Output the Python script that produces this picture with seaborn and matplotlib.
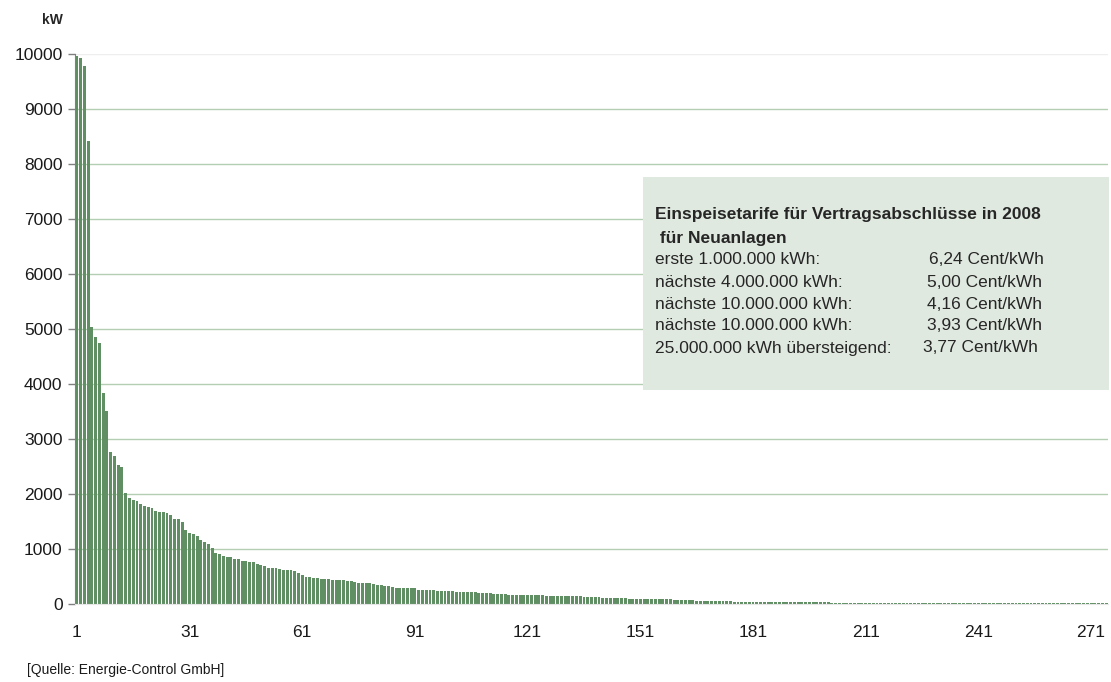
import numpy as np
import matplotlib
matplotlib.use("Agg")
import matplotlib.pyplot as plt
import seaborn as sns
from matplotlib.patches import Rectangle

# Leistung je Anlage (kW), absteigend sortiert
kw_head = [9960, 9920, 9780, 8420, 5040, 4860, 4750, 3830, 3510, 2770,
           2700, 2520, 2500, 2010, 1930, 1900, 1880, 1820, 1790, 1770,
           1750, 1690, 1680, 1680, 1660, 1620, 1550, 1540, 1500, 1350,
           1300, 1270, 1230, 1170, 1135, 1100]
kw_mid = [1025, 935, 915, 880, 862, 860, 825, 822, 790, 787,
          770, 768, 735, 715, 697, 662, 660, 658, 642, 625,
          623, 621, 606, 570, 533, 498, 496, 480, 478, 462,
          460, 458, 443, 442, 441, 440, 425, 423, 406, 390,
          388, 387, 386, 370, 352, 350, 334, 332, 315, 298,
          297, 296, 295, 294, 293]
kw_tail = [262, 261, 260, 259, 258, 243, 242, 241, 240, 239,
           225, 224, 223, 222, 221, 220, 207, 206, 205, 204,
           189, 188, 187, 186, 171, 170, 170, 169, 169, 168,
           168, 167, 167, 166, 153, 152, 152, 151, 151, 150,
           150, 149, 149, 148, 134, 133, 132, 131, 130, 116,
           115, 115, 114, 114, 113, 112, 98, 97, 97, 96,
           96, 95, 95, 94, 94, 93, 93, 92, 80, 79,
           79, 78, 78, 77, 62, 61, 61, 60, 60, 59,
           59, 58, 58, 57, 45, 44, 44, 43, 43, 43,
           42, 42, 42, 41, 41, 41, 40, 40, 39, 39,
           38, 31, 30, 30, 29, 29, 29, 28, 28, 28,
           27, 27, 27, 26, 26, 26, 25, 25, 25, 24,
           24, 24, 23, 23, 23, 23, 22, 22, 22, 22,
           21, 21, 20, 20, 20, 20, 20, 20, 20, 20,
           19, 19, 19, 19, 19, 19, 19, 19, 19, 19,
           19, 19, 18, 18, 18, 18, 18, 18, 18, 18,
           18, 18, 18, 18, 18, 18, 18, 18, 18, 18,
           18, 18, 18, 18, 18, 18, 18, 18, 18, 18,
           18, 18, 18, 18]
kw = kw_head + kw_mid + kw_tail
anlage = list(range(1, len(kw) + 1))

x_ticks = [1, 31, 61, 91, 121, 151, 181, 211, 241, 271]
y_ticks = [0, 1000, 2000, 3000, 4000, 5000, 6000, 7000, 8000, 9000, 10000]

box_title = ["Einspeisetarife für Vertragsabschlüsse in 2008", " für Neuanlagen"]
tarif_labels = ["erste 1.000.000 kWh:", "nächste 4.000.000 kWh:",
                "nächste 10.000.000 kWh:", "nächste 10.000.000 kWh:",
                "25.000.000 kWh übersteigend:"]
tarif_values = ["6,24 Cent/kWh", "5,00 Cent/kWh", "4,16 Cent/kWh",
                "3,93 Cent/kWh", "3,77 Cent/kWh"]

sns.set_style("white")
plt.rcParams["font.family"] = ["Liberation Sans", "DejaVu Sans"]

W, H = 1111, 682
fig = plt.figure(figsize=(W / 100, H / 100), dpi=100)
# 55 px je 1000 kW, damit die Gitterlinien sauber auf Pixel fallen
ax = fig.add_axes([75 / W, 78 / H, (1108 - 75) / W, 550 / H])

sns.barplot(x=anlage, y=kw, color="#5f8f62", width=0.78, saturation=1,
            linewidth=0, ax=ax)

ax.set_xlim(-0.5, len(kw) - 0.5)
ax.set_ylim(0, 10000)
ax.set_yticks(y_ticks)
ax.set_yticklabels([str(v) for v in y_ticks], fontsize=12.5, color="#1a1a1a")
ax.set_xticks([t - 1 for t in x_ticks])
ax.set_xticklabels([str(t) for t in x_ticks], fontsize=12.5, color="#1a1a1a")
ax.set_xlabel("")
ax.set_ylabel("")

ax.grid(axis="y", color="#b3ceb3", linewidth=1.0)
ax.get_ygridlines()[-1].set_color("#eeeeee")
ax.get_ygridlines()[0].set_visible(False)
ax.set_axisbelow(True)
ax.tick_params(axis="y", length=5, width=1, color="#808080", pad=4, left=True)
ax.tick_params(axis="x", length=0, pad=15)
for s in ["top", "right"]:
    ax.spines[s].set_visible(False)
ax.spines["left"].set_color("#808080")
ax.spines["bottom"].set_color("#e6e6e6")

fig.text(52 / W, 1 - 20 / H, "kW", fontsize=10, fontweight="bold",
         ha="center", va="center")

# Infobox mit Tarifen
fig.patches.append(Rectangle((643 / W, 1 - 390 / H), (1109 - 643) / W, (390 - 177) / H,
                             transform=fig.transFigure, facecolor="#e0e9e0",
                             edgecolor="none", zorder=3))
title_y = [215, 238]
for t, y in zip(box_title, title_y):
    fig.text(655 / W, 1 - y / H, t, fontsize=12.5, fontweight="bold",
             va="center", ha="left", zorder=4)
value_x = [929, 927, 927, 927, 923]
for i, (lab, val) in enumerate(zip(tarif_labels, tarif_values)):
    y = 260 + i * 22
    fig.text(655 / W, 1 - y / H, lab, fontsize=12.5, va="center", ha="left", zorder=4)
    fig.text(value_x[i] / W, 1 - y / H, val, fontsize=12.5, va="center",
             ha="left", zorder=4)

fig.text(27 / W, 1 - 670 / H, "[Quelle: Energie-Control GmbH]", fontsize=10,
         va="center", ha="left", color="#1a1a1a")

fig.savefig("out.png", dpi=100)
